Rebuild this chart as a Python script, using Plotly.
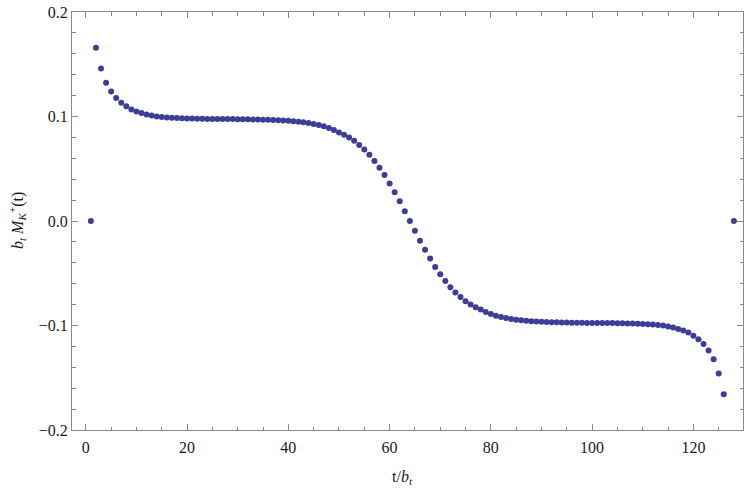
"""Lattice correlator M_K+(t) against t/b_t, framed Mathematica-style."""

import plotly.graph_objects as go

_DOT_COLOR = "#3d3d99"
_FRAME_COLOR = "#8a8a8a"
_TEXT_COLOR = "#1a1a1a"
_FONT = "Liberation Serif"

# time slices (in units of b_t); slice 127 is not drawn in the source
t_slices = list(range(1, 127)) + [128]

# upper half, t = 1 .. 64
m_upper = [
    0.0, 0.1658, 0.1460, 0.1323, 0.1240, 0.1177, 0.1132, 0.1097, 0.1068, 0.1049,
    0.1033, 0.1020, 0.1009, 0.1001, 0.0995, 0.0991, 0.0988, 0.0985, 0.0983, 0.0981,
    0.0980, 0.0979, 0.0978, 0.0977, 0.0977, 0.0976, 0.0976, 0.0975, 0.0975, 0.0974,
    0.0974, 0.0973, 0.0972, 0.0971, 0.0970, 0.0968, 0.0966, 0.0964, 0.0962, 0.0959,
    0.0955, 0.0950, 0.0944, 0.0937, 0.0929, 0.0919, 0.0907, 0.0891, 0.0871, 0.0848,
    0.0826, 0.0800, 0.0767, 0.0728, 0.0684, 0.0634, 0.0574, 0.0510, 0.0440, 0.0360,
    0.0275, 0.0188, 0.0094, 0.0,
]

# lower half, t = 65 .. 126, then t = 128
m_lower = [
    -0.0094, -0.0188, -0.0275, -0.0360, -0.0440, -0.0510, -0.0574, -0.0634, -0.0684,
    -0.0728, -0.0767, -0.0800, -0.0826, -0.0848, -0.0871, -0.0891, -0.0907, -0.0919,
    -0.0929, -0.0937, -0.0944, -0.0950, -0.0955, -0.0959, -0.0962, -0.0964, -0.0966,
    -0.0968, -0.0970, -0.0971, -0.0972, -0.0973, -0.0974, -0.0974, -0.0975, -0.0975,
    -0.0976, -0.0976, -0.0977, -0.0977, -0.0978, -0.0979, -0.0980, -0.0981, -0.0983,
    -0.0985, -0.0988, -0.0991, -0.0995, -0.1001, -0.1009, -0.1020, -0.1033, -0.1049,
    -0.1068, -0.1097, -0.1132, -0.1177, -0.1240, -0.1323, -0.1460, -0.1658,
    0.0,
]

m_values = m_upper + m_lower

x_ticks = [0, 20, 40, 60, 80, 100, 120]
y_ticks = [-0.2, -0.1, 0.0, 0.1, 0.2]

fig = go.Figure()
fig.add_scatter(
    x=t_slices,
    y=m_values,
    mode="markers",
    marker={"color": _DOT_COLOR, "size": 6, "line": {"width": 0}},
    showlegend=False,
)

_axis_common = dict(
    showline=True,
    linecolor=_FRAME_COLOR,
    linewidth=1,
    mirror="allticks",
    ticks="inside",
    tickcolor=_FRAME_COLOR,
    ticklen=6,
    tickwidth=1,
    showgrid=False,
    zeroline=False,
    automargin=False,
    ticklabeloverflow="allow",
    tickfont={"family": _FONT, "size": 16, "color": _TEXT_COLOR},
)

fig.update_layout(
    width=747,
    height=490,
    margin={"l": 72, "r": 4, "t": 12, "b": 60},
    paper_bgcolor="white",
    plot_bgcolor="white",
    font={"family": _FONT, "size": 16, "color": _TEXT_COLOR},
    xaxis=dict(
        _axis_common,
        range=[-2.73, 129.8],
        tickvals=x_ticks,
        ticklabelstandoff=3,
        minor={"dtick": 5, "ticks": "inside", "ticklen": 3.5, "tickcolor": _FRAME_COLOR},
    ),
    yaxis=dict(
        _axis_common,
        range=[-0.2, 0.2],
        tickvals=y_ticks,
        tickformat=".1f",
        minor={"dtick": 0.02, "ticks": "inside", "ticklen": 3.5, "tickcolor": _FRAME_COLOR},
    ),
)

# axis titles as annotations, for exact placement
fig.add_annotation(
    text="t/<i>b</i><sub><i>t</i></sub>",
    x=62.5, xref="x", y=0, yref="paper",
    yanchor="middle", yshift=-47, showarrow=False,
)
fig.add_annotation(
    text="<i>b</i><sub><i>t</i></sub> <i>M</i><sub><i>K</i></sub><sup>+</sup>(t)",
    x=0, xref="paper", y=0.5, yref="paper",
    xanchor="center", xshift=-55, textangle=-90, showarrow=False,
)

# drop the default body margin so the figure sits at the page corner
fig.write_html(
    "out.html",
    config={"displayModeBar": False},
    post_script="document.body.style.margin = '0';",
)
